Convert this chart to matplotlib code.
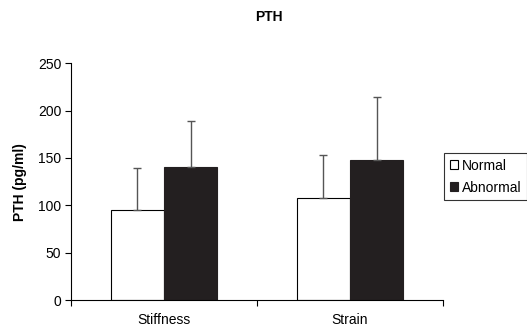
import matplotlib
matplotlib.use("Agg")
import matplotlib.pyplot as plt
import numpy as np

categories = ["Stiffness", "Strain"]
normal = [95, 108]
normal_err = [44, 45]
abnormal = [141, 148]
abnormal_err = [48, 66]
yticks = [0, 50, 100, 150, 200, 250]

plt.rcParams['font.family'] = ['Liberation Sans', 'DejaVu Sans']
FS = 10

fig = plt.figure(figsize=(5.27, 3.27), dpi=100)
ax = fig.add_axes([71/527, 1-300/327, (443-71)/527, (300-63.3)/327])

x = np.arange(len(categories))
w = 0.286
err_kw = dict(ecolor='#555555', elinewidth=1, capsize=3, capthick=1)
ax.bar(x - w/2, normal, w, color='white', edgecolor='black', linewidth=0.8,
       yerr=[np.zeros(2), normal_err], error_kw=err_kw, label='Normal', zorder=2)
ax.bar(x + w/2, abnormal, w, color='#231f20', edgecolor='#231f20', linewidth=0.8,
       yerr=[np.zeros(2), abnormal_err], error_kw=err_kw, label='Abnormal', zorder=2)

ax.set_xlim(-0.5, 1.5)
ax.set_ylim(0, 250)
ax.set_yticks(yticks)
ax.set_xticks(x)
ax.set_xticklabels(categories, fontsize=FS)
ax.tick_params(axis='x', length=0, pad=9)
ax.set_xticks([-0.5, 0.5, 1.5], minor=True)
ax.tick_params(axis='x', which='minor', length=4, direction='out', width=0.8)
ax.tick_params(axis='y', length=4, direction='out', width=0.8, labelsize=FS, pad=3)
for s in ['top', 'right']:
    ax.spines[s].set_visible(False)
for s in ['left', 'bottom']:
    ax.spines[s].set_linewidth(0.8)

ax.set_ylabel("PTH (pg/ml)", fontsize=FS, fontweight='bold')
ax.yaxis.set_label_coords((27-71)/372, 0.5)
fig.text(0.51, 1-17/327, "PTH", ha='center', va='center', fontsize=FS, fontweight='bold')

leg = ax.legend(loc='upper left', bbox_to_anchor=(444/527, 1-153/327), bbox_transform=fig.transFigure,
                fontsize=FS, frameon=True, fancybox=False, edgecolor='black',
                handlelength=0.6, handleheight=0.6, handletextpad=0.3, borderpad=0.4,
                labelspacing=0.58, borderaxespad=0)
leg.get_frame().set_linewidth(0.8)

fig.savefig("out.png", dpi=100)
